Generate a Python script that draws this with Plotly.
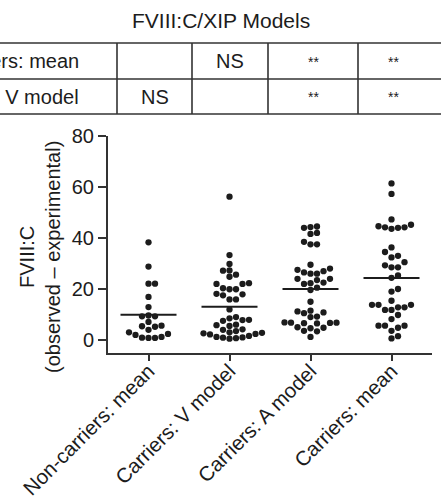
import numpy as np
import plotly.graph_objects as go

# ---------------- data ----------------
categories = ["Non-carriers: mean", "Carriers: V model", "Carriers: A model", "Carriers: mean"]

noncarriers_mean = [38.3, 28.8, 22.1, 22.1, 16.9, 12.9, 9.6, 9.3, 9.3, 7.1, 5.6, 5.2, 5.4,
                    4.0, 3.0, 2.4, 2.0, 0.8, 0.8, 0.9, 1.2]
carriers_v_model = [56.2, 33.3, 29.8, 27.2, 27.3, 24.8, 25.6, 22.0, 22.0, 22.3, 19.9, 19.9, 20.3,
                    17.9, 18.1, 17.5, 15.9, 15.9, 12.0, 9.0, 8.5, 7.9, 7.5, 7.8, 5.8, 5.5, 6.0,
                    4.2, 4.0, 3.0, 2.6, 2.4, 2.2, 2.8, 1.6, 1.0, 0.7, 0.5, 0.9, 1.2, 3.5]
carriers_a_model = [44.5, 44.0, 44.3, 42.0, 41.6, 37.5, 37.5, 38.5, 29.5, 27.5, 27.0, 26.0, 26.0,
                    26.5, 28.0, 24.0, 23.5, 24.0, 22.5, 22.3, 22.0, 20.5, 19.6, 15.0, 11.5, 10.5,
                    10.8, 11.2, 9.0, 9.2, 6.8, 6.6, 6.5, 6.9, 6.7, 6.8, 4.8, 4.6, 5.0, 3.6, 3.4, 1.2]
carriers_mean = [61.4, 57.3, 47.3, 44.2, 44.2, 43.6, 44.0, 44.6, 45.2, 36.3, 34.5, 32.4, 33.0,
                 30.5, 28.5, 28.5, 29.3, 25.3, 24.4, 20.0, 19.0, 15.4, 13.8, 12.8, 11.8, 11.8,
                 12.8, 13.8, 13.8, 9.8, 8.2, 5.6, 4.8, 3.6, 5.6, 5.6, 1.5, 0.6]
series = [noncarriers_mean, carriers_v_model, carriers_a_model, carriers_mean]

y_ticks = [0, 20, 40, 60, 80]
title_text = "FVIII:C/XIP Models"
y_title = "FVIII:C<br>(observed \u2013 experimental)"

table_rows = ["Non-carriers: mean", "Carriers: V model"]
table_cells = [["", "NS", "**", "**"],
               ["NS", "", "**", "**"]]

# ---------------- layout constants (pixels) ----------------
W, H = 441, 498
L, R, T, B = 108, 432, 136, 353
PW, PH = R - L, B - T
Y_RANGE = [-5.1, 80]
X_RANGE = [-0.5, 3.5]
FONT = "Liberation Sans, Arial, Helvetica, sans-serif"
INK = "#1c1c1c"

px_per_x = PW / (X_RANGE[1] - X_RANGE[0])
px_per_y = PH / (Y_RANGE[1] - Y_RANGE[0])


def paper_x(px):
    return (px - L) / PW


def paper_y(py):
    return (B - py) / PH


def beeswarm(values, dot=6.5):
    """Grid-based swarm offsets (in category units), GraphPad style."""
    order = np.argsort(values)
    placed = []
    offs = np.zeros(len(values))
    for idx in order:
        y = values[idx] * px_per_y
        k = 0
        while True:
            step = (k + 1) // 2 * (1 if k % 2 == 1 else -1)
            xo = step * dot
            if all((xo - px) ** 2 + (y - py) ** 2 >= (dot * 0.98) ** 2 for px, py in placed):
                break
            k += 1
        placed.append((xo, y))
        offs[idx] = xo / px_per_x
    return offs


fig = go.Figure()
half = 28 / px_per_x
for i, vals in enumerate(series):
    vals = np.array(vals, dtype=float)
    xs = i + beeswarm(vals)
    fig.add_trace(go.Scatter(x=xs, y=vals, mode="markers",
                             marker=dict(size=6.3, color=INK, line=dict(width=0)),
                             showlegend=False, hoverinfo="y"))
    m = vals.mean()
    fig.add_trace(go.Scatter(x=[i - half, i + half], y=[m, m], mode="lines",
                             line=dict(color=INK, width=2), showlegend=False))

# ---------------- table ----------------
shapes = []
h_lines = [43, 79, 114]
v_lines = [117, 192, 268, 358]
for y in h_lines:
    shapes.append(dict(type="line", xref="paper", yref="paper",
                       x0=paper_x(-5), x1=paper_x(W + 5), y0=paper_y(y), y1=paper_y(y),
                       line=dict(color="#333333", width=1.6)))
for x in v_lines:
    shapes.append(dict(type="line", xref="paper", yref="paper",
                       x0=paper_x(x), x1=paper_x(x), y0=paper_y(h_lines[0]), y1=paper_y(h_lines[-1]),
                       line=dict(color="#333333", width=1.6)))

annotations = []
annotations.append(dict(text=title_text, xref="paper", yref="paper",
                        x=paper_x(221), y=paper_y(21), xanchor="center", yanchor="middle",
                        showarrow=False, font=dict(family=FONT, size=21, color=INK)))
col_edges = v_lines + [428]
row_centers = [(h_lines[0] + h_lines[1]) / 2, (h_lines[1] + h_lines[2]) / 2]
for r, label in enumerate(table_rows):
    annotations.append(dict(text=label, xref="paper", yref="paper",
                            x=paper_x(81), y=paper_y(row_centers[r]), xanchor="right",
                            yanchor="middle", showarrow=False,
                            font=dict(family=FONT, size=20, color=INK)))
    for c, cell in enumerate(table_cells[r]):
        if not cell:
            continue
        cx = (col_edges[c] + col_edges[c + 1]) / 2
        annotations.append(dict(text=cell, xref="paper", yref="paper",
                                x=paper_x(cx), y=paper_y(row_centers[r] + (1 if cell == "**" else 0)),
                                xanchor="center", yanchor="middle", showarrow=False,
                                font=dict(family=FONT, size=20 if cell == "NS" else 14, color=INK)))
annotations.append(dict(text=y_title, xref="paper", yref="paper",
                        x=paper_x(40), y=paper_y(257), xanchor="center", yanchor="middle",
                        textangle=-90, showarrow=False,
                        font=dict(family=FONT, size=20, color=INK)))

fig.update_layout(
    width=W, height=H,
    margin=dict(l=L, r=W - R, t=T, b=H - B, autoexpand=False),
    paper_bgcolor="white", plot_bgcolor="white",
    font=dict(family=FONT, size=20, color=INK),
    shapes=shapes, annotations=annotations,
    xaxis=dict(range=X_RANGE, tickvals=list(range(len(categories))), ticktext=categories,
               tickangle=-45, showline=True, linecolor="#333333", linewidth=2,
               ticks="outside", ticklen=6, tickwidth=2, tickcolor="#333333",
               ticklabelstandoff=-10,
               showgrid=False, zeroline=False, tickfont=dict(size=20.5)),
    yaxis=dict(range=Y_RANGE, tickvals=y_ticks, showline=True, linecolor="#333333",
               linewidth=2, ticks="outside", ticklen=8, tickwidth=2, tickcolor="#333333",
               showgrid=False, zeroline=False, tickfont=dict(size=20)),
)

fig.write_html("out.html", config={"displayModeBar": False},
               post_script="document.body.style.margin='0';document.body.style.padding='0';")
